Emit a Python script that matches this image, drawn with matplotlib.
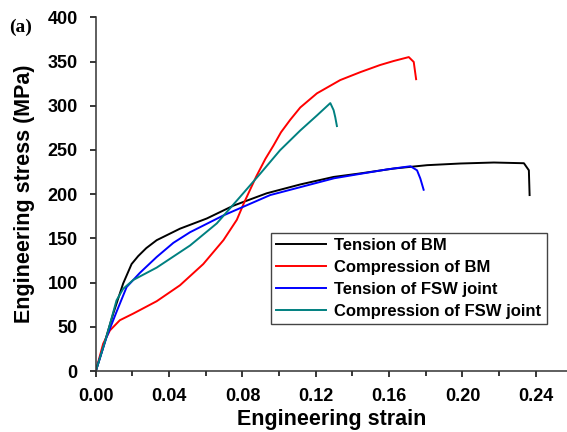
import matplotlib
matplotlib.use("Agg")
import matplotlib.pyplot as plt
from matplotlib.ticker import MultipleLocator

plt.rcParams['font.family'] = ['Liberation Sans', 'DejaVu Sans']
plt.rcParams['font.weight'] = 'bold'

# strain / stress
tension_bm_x = [0.0, 0.004, 0.0095, 0.0149, 0.0195, 0.0231, 0.0275, 0.0332, 0.0459, 0.0605,
                0.075, 0.0932, 0.1115, 0.1297, 0.1443, 0.1625, 0.1807, 0.199, 0.2171,
                0.2335, 0.2362, 0.2366]
tension_bm_y = [0, 27, 65, 99, 121, 130, 139, 148, 161, 172.5, 187, 201, 211, 219.5, 223.5,
                229, 232.8, 234.7, 235.8, 235, 227, 199]

comp_bm_x = [0.0, 0.004, 0.0077, 0.0131, 0.0204, 0.0332, 0.0459, 0.0586, 0.0696, 0.0769,
             0.081, 0.0875, 0.0925, 0.0969, 0.101, 0.106, 0.1115, 0.1206, 0.1333, 0.1443,
             0.155, 0.1625, 0.1707, 0.1734, 0.1747]
comp_bm_y = [0, 31, 46, 57.5, 65, 79, 97, 121, 148, 171, 191, 220, 240, 255, 270, 284, 298,
             314, 329, 338, 346, 350.6, 355, 349.5, 330]

tension_fsw_x = [0.0, 0.0058, 0.0113, 0.0168, 0.024, 0.0332, 0.0423, 0.0514, 0.0696,
                 0.0951, 0.13, 0.1443, 0.1588, 0.1716, 0.1752, 0.177, 0.1788]
tension_fsw_y = [0, 38, 67, 95, 111, 129, 145, 157, 176, 199, 218, 223, 228, 231.6,
                 227, 217.7, 205]

comp_fsw_x = [0.0, 0.0058, 0.0113, 0.0149, 0.0204, 0.0332, 0.0514, 0.066, 0.0787, 0.0896,
              0.1005, 0.1115, 0.1206, 0.1279, 0.1297, 0.1306, 0.1315]
comp_fsw_y = [0, 38.8, 80, 93, 103, 117, 142, 167, 197, 223, 249.7, 272, 289, 303, 295,
              287, 277]

labels = ['Tension of BM', 'Compression of BM', 'Tension of FSW joint',
          'Compression of FSW joint']
colors = ['black', 'red', 'blue', '#008080']

fig = plt.figure(figsize=(5.67, 4.32), dpi=100)
ax = fig.add_axes([0.169, 0.141, 0.831, 0.819])

series = [(tension_bm_x, tension_bm_y), (comp_bm_x, comp_bm_y),
          (tension_fsw_x, tension_fsw_y), (comp_fsw_x, comp_fsw_y)]
for (x, y), lab, c in zip(series, labels, colors):
    ax.plot(x, y, color=c, lw=1.4, label=lab)

ax.set_xlim(0, 0.257)
ax.set_ylim(0, 400)
ax.xaxis.set_minor_locator(MultipleLocator(0.02))
ax.yaxis.set_major_locator(MultipleLocator(50))
ax.set_xticks([0, 0.04, 0.08, 0.12, 0.16, 0.20, 0.24])
ax.set_xticklabels(['0.00', '0.04', '0.08', '0.12', '0.16', '0.20', '0.24'])

ax.spines['top'].set_visible(False)
ax.spines['right'].set_visible(False)
for s in ['left', 'bottom']:
    ax.spines[s].set_linewidth(1.1)
    ax.spines[s].set_color('#333333')
ax.tick_params(which='major', direction='out', length=4.5, width=1.1, labelsize=13)
ax.tick_params(which='minor', direction='out', length=3.5, width=1.1)
ax.tick_params(axis='x', which='major', pad=7.5)
ax.tick_params(axis='y', which='major', pad=8.5)

ax.set_xlabel('Engineering strain', fontsize=15.5, fontweight='bold', labelpad=3)
ax.set_ylabel('Engineering stress (MPa)', fontsize=15.5, fontweight='bold', labelpad=9)

leg = ax.legend(loc='upper left', bbox_to_anchor=(0.372, 0.39), prop={'size': 12, 'weight': 'bold'},
                frameon=True, fancybox=False, framealpha=1, edgecolor='#444444',
                handlelength=3.0, handletextpad=0.5, labelspacing=0.42, borderpad=0.3,
                borderaxespad=0)
leg.get_frame().set_linewidth(1.0)

fig.text(0.016, 0.925, '(a)', fontsize=14, fontweight='bold', family='Liberation Serif')

plt.savefig('out.png', dpi=100)
